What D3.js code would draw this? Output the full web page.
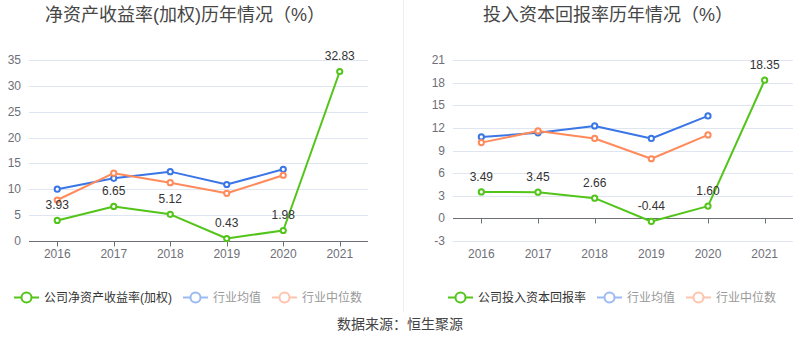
<!DOCTYPE html>
<html><head><meta charset="utf-8">
<script src="https://cdn.jsdelivr.net/npm/d3@7"></script>
<style>
html,body{margin:0;padding:0;background:#fff;}
svg text{font-family:"Liberation Sans","Noto Sans CJK SC",sans-serif;}
</style></head>
<body>
<svg id="c" width="800" height="358"></svg>
<script>
const years = ["2016","2017","2018","2019","2020","2021"];
// Left chart: ROE (weighted)
const roeCompany = [3.93, 6.65, 5.12, 0.43, 1.98, 32.83];
const roeAvg = [10.0, 12.1, 13.4, 10.9, 13.85];
const roeMedian = [7.9, 13.1, 11.25, 9.2, 12.7];
const roeTicks = [0,5,10,15,20,25,30,35];
// Right chart: ROIC
const roicCompany = [3.49, 3.45, 2.66, -0.44, 1.60, 18.35];
const roicAvg = [10.8, 11.35, 12.27, 10.6, 13.6];
const roicMedian = [10.05, 11.6, 10.6, 7.9, 11.07];
const roicTicks = [-3,0,3,6,9,12,15,18,21];

const titles = ["净资产收益率(加权)历年情况（%）", "投入资本回报率历年情况（%）"];
const legendNames = [["公司净资产收益率(加权)","行业均值","行业中位数"],["公司投入资本回报率","行业均值","行业中位数"]];
const source = "数据来源：恒生聚源";

const C_GREEN = "#52c41a", C_BLUE = "#3a76e6", C_ORANGE = "#ff8a5b";

const svg = d3.select("#c");

// separator
svg.append("line").attr("x1",403.5).attr("x2",403.5).attr("y1",0).attr("y2",312)
  .attr("stroke","#eeeeee").attr("stroke-width",1);

function drawChart(cfg){
  const g = svg.append("g");
  const x = d3.scaleBand().domain(years).range(cfg.xr);
  const y = d3.scaleLinear().domain(cfg.yd).range([240.7, 60.3]);
  const cx = d => x(d) + x.bandwidth()/2;

  // title
  g.append("text").attr("x",cfg.titleX).attr("y",15).attr("text-anchor","middle")
    .attr("dominant-baseline","central").attr("font-size",18).attr("fill","#464646").text(cfg.title);

  // grid
  g.selectAll(".grid").data(cfg.ticks).enter().append("line")
    .attr("x1",cfg.xr[0]).attr("x2",cfg.xr[1])
    .attr("y1",d=>Math.round(y(d))+0.5).attr("y2",d=>Math.round(y(d))+0.5)
    .attr("stroke","#e0e6f1").attr("stroke-width",1);

  // y labels
  g.selectAll(".yl").data(cfg.ticks).enter().append("text")
    .attr("x",cfg.xr[0]-8).attr("y",d=>y(d)).attr("text-anchor","end")
    .attr("dominant-baseline","central").attr("font-size",12).attr("fill","#6e7079").text(d=>d);

  // x axis line at zero
  const y0 = Math.round(y(0))+0.5;
  g.append("line").attr("x1",cfg.xr[0]).attr("x2",cfg.xr[1]).attr("y1",y0).attr("y2",y0)
    .attr("stroke","#6e7079").attr("stroke-width",1);
  g.selectAll(".tk").data(years).enter().append("line")
    .attr("x1",d=>Math.round(cx(d))+0.5).attr("x2",d=>Math.round(cx(d))+0.5)
    .attr("y1",y0).attr("y2",y0+5).attr("stroke","#6e7079");
  g.selectAll(".xl").data(years).enter().append("text")
    .attr("x",d=>cx(d)).attr("y",254).attr("text-anchor","middle")
    .attr("dominant-baseline","central").attr("font-size",12).attr("fill","#6e7079").text(d=>d);

  const line = d3.line().x((d,i)=>cx(years[i])).y(d=>y(d));
  const series = [
    {vals:cfg.avg, color:C_BLUE},
    {vals:cfg.med, color:C_ORANGE},
    {vals:cfg.comp, color:C_GREEN}
  ];
  series.forEach(s=>{
    g.append("path").attr("d",line(s.vals)).attr("fill","none")
      .attr("stroke",s.color).attr("stroke-width",2).attr("stroke-linejoin","round");
    g.selectAll(null).data(s.vals).enter().append("circle")
      .attr("cx",(d,i)=>cx(years[i])).attr("cy",d=>y(d)).attr("r",2.6)
      .attr("fill","#fff").attr("stroke",s.color).attr("stroke-width",2);
  });
  // labels for company
  g.selectAll(".lb").data(cfg.comp).enter().append("text")
    .attr("x",(d,i)=>cx(years[i])).attr("y",d=>y(d)-15).attr("text-anchor","middle")
    .attr("dominant-baseline","central").attr("font-size",12).attr("fill","#333")
    .text(d=>d.toFixed(2));

  // legend
  const items = [
    {name:cfg.legend[0], color:C_GREEN, text:"#333", op:1},
    {name:cfg.legend[1], color:C_BLUE, text:"#999", op:0.5},
    {name:cfg.legend[2], color:C_ORANGE, text:"#999", op:0.5}
  ];
  items.forEach((it,k)=>{
    const lx = cfg.legX[k], ly = 297.5;
    const lg = g.append("g").attr("opacity",it.op);
    lg.append("line").attr("x1",lx).attr("x2",lx+25).attr("y1",ly).attr("y2",ly)
      .attr("stroke",it.color).attr("stroke-width",2);
    lg.append("circle").attr("cx",lx+12.5).attr("cy",ly).attr("r",5)
      .attr("fill","#fff").attr("stroke",it.color).attr("stroke-width",2);
    g.append("text").attr("x",lx+30).attr("y",ly).attr("dominant-baseline","central")
      .attr("font-size",12).attr("fill",it.text).text(it.name);
  });
}

drawChart({xr:[29,368], yd:[0,35], ticks:roeTicks, comp:roeCompany, avg:roeAvg, med:roeMedian,
  title:titles[0], titleX:185, legend:legendNames[0], legX:[14,183,272]});
drawChart({xr:[453,793], yd:[-3,21], ticks:roicTicks, comp:roicCompany, avg:roicAvg, med:roicMedian,
  title:titles[1], titleX:608, legend:legendNames[1], legX:[448,597,686]});

svg.append("text").attr("x",400).attr("y",324).attr("text-anchor","middle")
  .attr("dominant-baseline","central").attr("font-size",14).attr("fill","#444").text(source);
</script>
</body></html>
